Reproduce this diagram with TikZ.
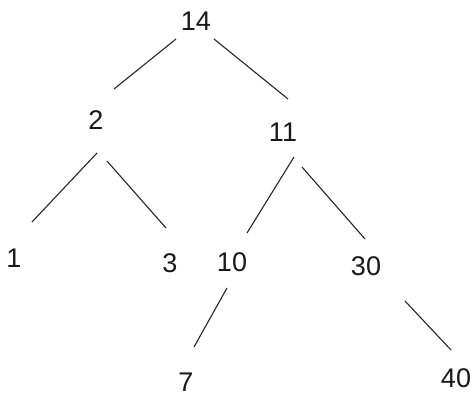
\documentclass[tikz,border=0pt]{standalone}
\usepackage{fontspec}
\setmainfont{Liberation Sans}
\begin{document}
\begin{tikzpicture}[x=1pt,y=-1pt,
  num/.style={inner sep=0pt, font=\fontsize{27}{30}\selectfont, text=black!90},
  edge/.style={line width=1.1pt, draw=black!85}]
\useasboundingbox (0,0) rectangle (473,396);
\node[num] (n14) at (196,21) {14};
\node[num] (n2) at (96,120) {2};
\node[num] (n11) at (283,132) {11};
\node[num] (n1) at (14,258) {1};
\node[num] (n3) at (170,263) {3};
\node[num] (n10) at (232,262) {10};
\node[num] (n30) at (366,266) {30};
\node[num] (n7) at (186,382) {7};
\node[num] (n40) at (456,378) {40};
\draw[edge] ([shift={(-20,18)}]n14.center) -- ([shift={(18,-31)}]n2.center);
\draw[edge] ([shift={(18,18)}]n14.center) -- ([shift={(5,-33)}]n11.center);
\draw[edge] ([shift={(1,33)}]n2.center) -- ([shift={(18,-36)}]n1.center);
\draw[edge] ([shift={(11,41)}]n2.center) -- ([shift={(-4,-35)}]n3.center);
\draw[edge] ([shift={(11,25)}]n11.center) -- ([shift={(15,-29)}]n10.center);
\draw[edge] ([shift={(19,35)}]n11.center) -- ([shift={(-1,-27)}]n30.center);
\draw[edge] ([shift={(-5,26)}]n10.center) -- ([shift={(8,-35)}]n7.center);
\draw[edge] ([shift={(39,35)}]n30.center) -- ([shift={(-5,-28)}]n40.center);
\end{tikzpicture}
\end{document}
